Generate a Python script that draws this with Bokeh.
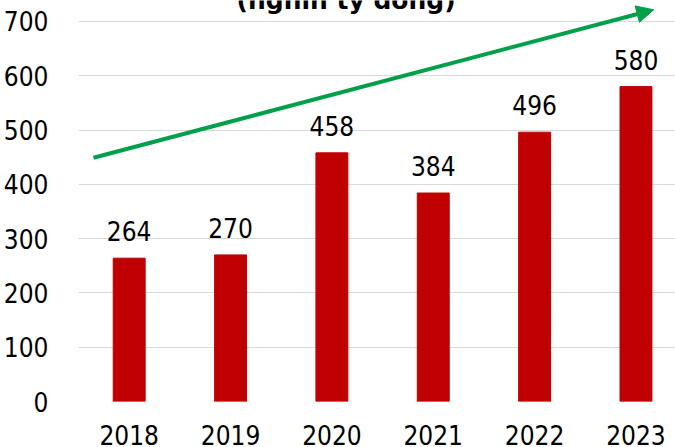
from bokeh.plotting import figure
from bokeh.models import Range1d, FixedTicker, ColumnDataSource, LabelSet, Label, Arrow, NormalHead
from bokeh.core.properties import value
from bokeh.embed import file_html
from bokeh.resources import INLINE

# ---- data ----
years = ["2018", "2019", "2020", "2021", "2022", "2023"]
values = [264, 270, 458, 384, 496, 580]
y_ticks = [0, 100, 200, 300, 400, 500, 600, 700]
title_text = "(nghìn tỷ đồng)"

BAR = "#C00000"
GREEN = "#00A04A"
FONT = "DejaVu Sans Condensed, DejaVu Sans"
FSIZE = "26px"

xs = list(range(len(years)))
src = ColumnDataSource(dict(x=xs, year=years, value=values,
                            label=[str(v) for v in values]))

p = figure(width=675, height=447, output_backend="svg", toolbar_location=None,
           x_range=Range1d(-0.5, 5.39), y_range=Range1d(0, 738.6),
           min_border_left=77, min_border_right=0, min_border_top=0,
           min_border_bottom=46)
p.outline_line_color = None
p.background_fill_color = "white"
p.border_fill_color = "white"

p.vbar(x="x", top="value", width=0.315, source=src,
       fill_color=BAR, line_color=BAR)

# axes
p.xaxis.ticker = FixedTicker(ticks=xs)
p.xaxis.major_label_overrides = {i: y for i, y in enumerate(years)}
p.yaxis.ticker = FixedTicker(ticks=y_ticks)
for ax in (p.xaxis, p.yaxis):
    ax.axis_line_color = None
    ax.major_tick_line_color = None
    ax.minor_tick_line_color = None
    ax.major_label_text_font = FONT
    ax.major_label_text_font_size = FSIZE
    ax.major_label_text_color = "#000000"
p.yaxis.major_label_standoff = 24
p.xaxis.major_label_standoff = 17

p.xgrid.grid_line_color = None
p.ygrid.grid_line_color = "#D9D9D9"
p.ygrid.grid_line_width = 1

# value labels
labels = LabelSet(x="x", y="value", text="label", source=src, y_offset=17,
                  text_align="center", text_baseline="alphabetic",
                  text_font=value(FONT), text_font_size=FSIZE,
                  text_color="#000000")
p.add_layout(labels)

# trend arrow
p.add_layout(Arrow(end=NormalHead(size=17, fill_color=GREEN, line_color=GREEN),
                   x_start=-0.352, y_start=449, x_end=5.175, y_end=721.5,
                   line_color=GREEN, line_width=4))

# partially visible title (cut off at the top, as in the reference)
p.add_layout(Label(x=2.14, y=737.7, text=title_text, text_font="DejaVu Sans",
                   text_font_style="bold", text_font_size="25px", text_align="center",
                   text_baseline="alphabetic", text_color="#000000"))

open("out.html", "w").write(file_html(p, INLINE))
